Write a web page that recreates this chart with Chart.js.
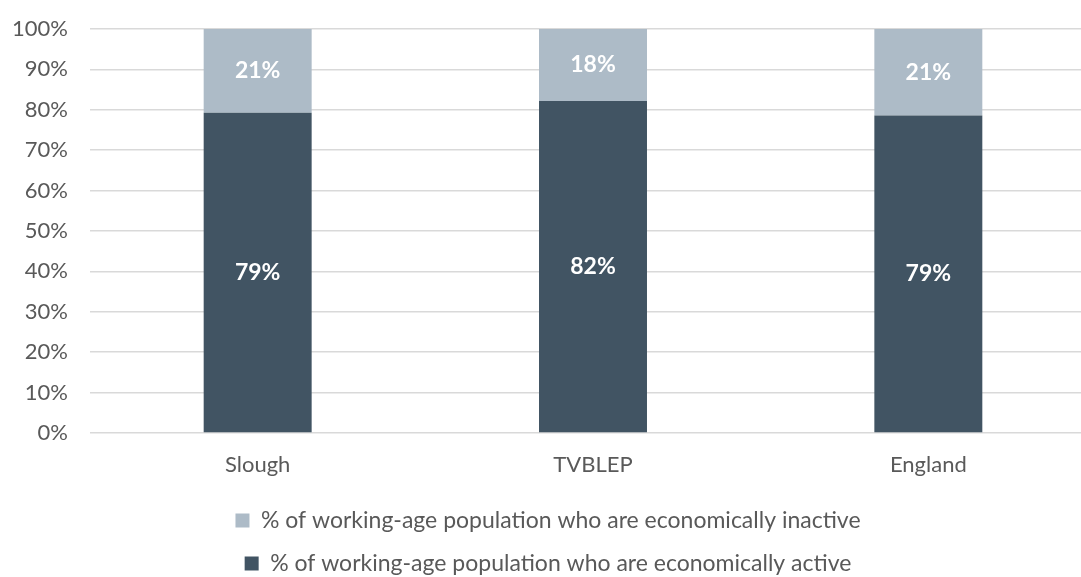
<!DOCTYPE html>
<html>
<head>
<meta charset="utf-8">
<script src="https://cdn.jsdelivr.net/npm/chart.js@4.4.0/dist/chart.umd.min.js"></script>
<style>
  html, body { margin: 0; padding: 0; background: #fff; overflow: hidden; }
  #wrap { width: 1096px; height: 577px; }
</style>
</head>
<body>
<div id="wrap"><canvas id="grafica"></canvas></div>
<script>
// datos
var areas = ['Slough', 'TVBLEP', 'England'];
var activos = [79.3, 82.2, 78.6];
var inactivos = [20.7, 17.8, 21.4];
var ticksY = [0, 10, 20, 30, 40, 50, 60, 70, 80, 90, 100];

var colorActivo = '#415463';
var colorInactivo = '#adbbc7';
var colorTexto = '#595959';
var fuente = 'Lato, "Open Sans", sans-serif';

// etiquetas blancas dentro de cada segmento
var etiquetas = {
    id: 'etiquetas',
    afterDatasetsDraw: function(chart) {
        var ctx = chart.ctx;
        ctx.save();
        ctx.fillStyle = '#ffffff';
        ctx.font = 'bold 23px ' + fuente;
        ctx.textAlign = 'center';
        ctx.textBaseline = 'middle';
        chart.data.datasets.forEach(function(ds, i) {
            var meta = chart.getDatasetMeta(i);
            meta.data.forEach(function(bar, j) {
                var props = bar.getProps(['x', 'y', 'base'], true);
                ctx.fillText(Math.round(ds.data[j]) + '%', props.x, (props.y + props.base) / 2);
            });
        });
        ctx.restore();
    }
};

var ctx = document.getElementById('grafica').getContext('2d');
var myChart = new Chart(ctx, {
    type: 'bar',
    data: {
        labels: areas,
        datasets: [{
            label: '% of working-age population who are economically active',
            data: activos,
            backgroundColor: colorActivo,
            barPercentage: 1,
            categoryPercentage: 0.322
        }, {
            label: '% of working-age population who are economically inactive',
            data: inactivos,
            backgroundColor: colorInactivo,
            barPercentage: 1,
            categoryPercentage: 0.322
        }]
    },
    options: {
        responsive: true,
        maintainAspectRatio: false,
        animation: false,
        layout: { padding: { top: 29, bottom: -8, left: 0, right: 0 } },
        plugins: {
            tooltip: { enabled: false },
            legend: {
                position: 'bottom',
                reverse: true,
                labels: {
                    color: colorTexto,
                    font: { family: fuente, size: 23 },
                    boxWidth: 14,
                    boxHeight: 14,
                    padding: 20
                }
            }
        },
        scales: {
            x: {
                stacked: true,
                grid: { display: false },
                border: { display: false },
                ticks: { color: colorTexto, font: { family: fuente, size: 22 }, padding: 11 },
                afterFit: function(scale) { scale.height = 56; }
            },
            y: {
                stacked: true,
                min: 0,
                max: 100,
                afterBuildTicks: function(scale) {
                    scale.ticks = ticksY.map(function(v) { return { value: v }; });
                },
                grid: { color: '#d9d9d9', lineWidth: 1.5, drawTicks: false },
                border: { display: false },
                ticks: {
                    color: colorTexto,
                    font: { family: fuente, size: 22 },
                    padding: 22,
                    callback: function(v) { return v + '%'; }
                },
                afterFit: function(scale) {
                    scale.width = 90;
                    scale.paddingTop = 0;
                    scale.paddingBottom = 0;
                }
            }
        }
    },
    plugins: [etiquetas]
});
</script>
</body>
</html>
